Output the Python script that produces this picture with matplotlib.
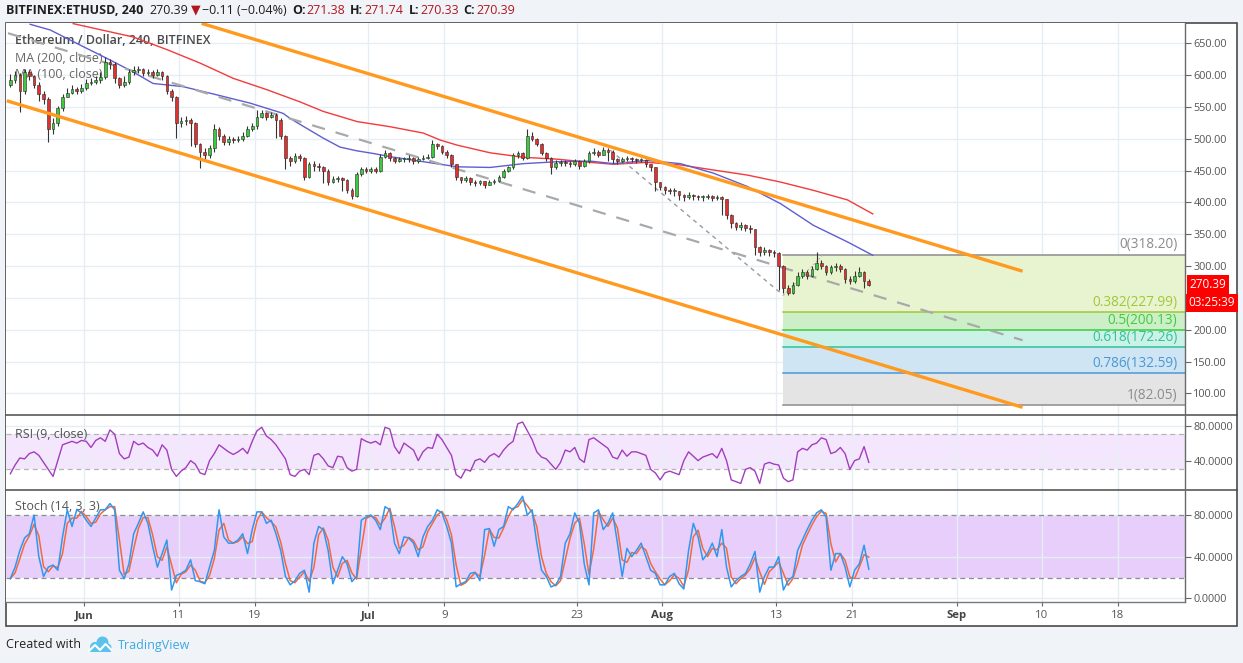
import matplotlib
matplotlib.use("Agg")
import matplotlib.pyplot as plt
import matplotlib.dates as mdates
import matplotlib.transforms as mtransforms
from matplotlib.patches import Rectangle, Circle
from matplotlib.lines import Line2D
import numpy as np
import pandas as pd

plt.rcParams['font.family'] = ['Open Sans', 'DejaVu Sans']

# ETH/USD, 12h candles (May 24 .. Aug 22)
candle_start = "2018-05-24"
first_open = 585
closes = [592, 600, 575, 605, 598, 585, 570, 562, 515, 525, 548, 565, 572, 578, 575, 580,
          588, 590, 592, 597, 620, 618, 595, 585, 590, 605, 608, 610, 603, 605, 600, 605,
          598, 575, 565, 525, 528, 530, 525, 492, 480, 475, 485, 515, 505, 495, 500, 498,
          500, 505, 515, 520, 535, 540, 535, 538, 530, 505, 470, 465, 473, 470, 440, 460,
          458, 455, 450, 432, 437, 438, 435, 420, 410, 445, 452, 450,
          452, 450, 472, 478, 470, 465, 468, 468, 470, 465, 468, 470, 472, 492, 488, 480,
          475, 460, 440, 435, 438, 432, 430, 433, 428, 432, 433, 440, 450, 455, 475, 478,
          470, 505, 500, 492, 478, 470, 455, 462, 463, 462, 460, 465, 458, 465, 478, 480,
          475, 483, 480, 468, 465, 468, 470, 468, 466, 467, 460, 455, 432, 425,
          420, 418, 418, 412, 408, 412, 410, 408, 408, 410, 407, 408, 405, 380, 368, 362,
          365, 360, 358, 330, 322, 325, 322, 320, 300, 265, 258, 270, 285, 290, 285, 295,
          305, 300, 290, 298, 300, 295, 280, 276, 285, 290, 276, 270.39]
highs = [602, 606, 603, 610, 608, 600, 590, 575, 565, 532, 552, 570, 580, 585, 582, 586,
         594, 596, 598, 605, 629, 625, 620, 597, 598, 610, 614, 615, 612, 610, 608, 610,
         607, 600, 578, 567, 534, 536, 532, 527, 494, 485, 490, 524, 518, 508, 505, 503,
         504, 510, 520, 525, 545, 546, 542, 542, 540, 532, 506, 473, 477, 476, 472, 464,
         465, 462, 457, 452, 442, 442, 440, 437, 422, 448, 456, 455,
         456, 455, 476, 482, 480, 472, 472, 471, 474, 471, 471, 474, 476, 498, 494, 490,
         482, 476, 461, 440, 442, 440, 436, 436, 434, 435, 437, 443, 452, 458, 478, 481,
         480, 516, 510, 502, 494, 480, 471, 466, 467, 466, 465, 468, 467, 468, 481, 485,
         482, 487, 485, 483, 470, 472, 473, 472, 470, 470, 468, 458, 455, 432,
         426, 422, 422, 418, 414, 416, 414, 412, 412, 413, 412, 412, 410, 406, 382, 370,
         370, 366, 364, 359, 332, 330, 327, 325, 322, 302, 270, 275, 290, 296, 294, 300,
         322, 310, 302, 302, 305, 303, 297, 284, 292, 298, 292, 280]
lows = [582, 588, 542, 570, 592, 580, 560, 555, 495, 508, 520, 544, 565, 570, 570, 572,
        576, 584, 586, 588, 594, 610, 588, 580, 582, 586, 600, 603, 598, 600, 596, 598,
        592, 570, 560, 501, 518, 522, 488, 487, 454, 468, 470, 480, 498, 490, 490, 493,
        495, 497, 503, 512, 515, 532, 530, 532, 502, 500, 452, 458, 462, 465, 436, 438,
        450, 450, 430, 428, 430, 432, 418, 415, 406, 408, 442, 446,
        446, 446, 448, 470, 465, 462, 463, 464, 464, 460, 462, 466, 468, 470, 484, 476,
        470, 456, 436, 430, 432, 428, 426, 428, 423, 427, 429, 432, 438, 448, 452, 470,
        466, 468, 496, 488, 474, 465, 445, 452, 458, 457, 456, 458, 453, 456, 462, 474,
        472, 474, 465, 462, 461, 463, 465, 464, 462, 463, 455, 450, 418, 419,
        414, 413, 410, 404, 403, 406, 404, 404, 403, 405, 403, 404, 380, 374, 360, 356,
        357, 355, 352, 318, 316, 318, 316, 314, 262, 258, 254, 256, 268, 282, 280, 283,
        294, 296, 286, 288, 292, 290, 274, 272, 274, 283, 266, 268]

ma200_time = ["2018-05-30 21:00", "2018-06-06 05:00", "2018-06-09 19:00", "2018-06-13 06:00",
              "2018-06-16 18:00", "2018-06-20 08:00", "2018-06-23 19:00", "2018-06-26 06:00",
              "2018-06-29 20:00", "2018-07-03 07:00", "2018-07-06 19:00", "2018-07-08 14:00",
              "2018-07-10 09:00", "2018-07-13 20:00", "2018-07-17 08:00", "2018-07-20 22:00",
              "2018-07-24 09:00", "2018-07-26 20:00", "2018-07-30 10:00", "2018-08-02 21:00",
              "2018-08-06 09:00", "2018-08-09 23:00", "2018-08-13 11:00", "2018-08-16 22:00",
              "2018-08-20 12:00", "2018-08-23 04:00"]
ma200_value = [681, 660, 640, 619, 595, 577, 558, 543, 527, 519, 509, 498, 490, 478,
               471, 468, 463, 460, 463, 459, 451, 443, 432, 419, 404, 382]
ma100_time = ["2018-05-26 08:00", "2018-05-28 11:00", "2018-05-31 22:00", "2018-06-03 18:00",
              "2018-06-06 05:00", "2018-06-08 07:00", "2018-06-11 11:00", "2018-06-15 01:00",
              "2018-06-18 13:00", "2018-06-22 00:00", "2018-06-22 18:00", "2018-06-24 13:00",
              "2018-06-26 06:00", "2018-06-28 00:00", "2018-06-29 20:00", "2018-07-01 12:00",
              "2018-07-03 07:00", "2018-07-06 19:00", "2018-07-10 09:00", "2018-07-13 20:00",
              "2018-07-17 08:00", "2018-07-20 22:00", "2018-07-24 09:00", "2018-07-26 20:00",
              "2018-07-30 10:00", "2018-08-02 21:00", "2018-08-06 09:00", "2018-08-09 23:00",
              "2018-08-13 11:00", "2018-08-16 22:00", "2018-08-20 12:00", "2018-08-23 04:00"]
ma100_value = [680, 671, 645, 624, 605, 587, 582, 569, 556, 540, 532, 516, 501, 487, 481,
               477, 472, 464, 456, 455, 461, 464, 465, 461, 466, 461, 446, 425, 398, 364,
               338, 317]

# drawn trend lines (two points each)
channel_upper_time = ["2018-06-13 10:00", "2018-09-07 23:00"]
channel_upper_value = [681.4, 292.0]
channel_lower_time = ["2018-05-23 21:00", "2018-09-07 23:00"]
channel_lower_value = [559.8, 78.1]
trend_long_time = ["2018-05-24 00:00", "2018-09-07 23:00"]
trend_long_value = [666.0, 183.5]
trend_steep_time = ["2018-07-26 12:00", "2018-08-13 18:00"]
trend_steep_value = [482.0, 254.0]
fib_diag_time = ["2018-08-13 18:00", "2018-08-17 23:00"]
fib_diag_value = [254.0, 318.2]

fib_start = "2018-08-13 16:00"
fib_ratios = [0, 0.382, 0.5, 0.618, 0.786, 1]
fib_prices = [318.20, 227.99, 200.13, 172.26, 132.59, 82.05]

rsi = [25, 35, 43, 42, 48, 50, 46, 38, 30, 22, 40, 58, 60, 62, 60, 63, 62, 55, 63, 66,
       62, 75, 70, 48, 42, 44, 62, 58, 60, 55, 52, 45, 58, 52, 30, 22, 28, 32, 40, 36,
       26, 24, 40, 48, 58, 54, 50, 47, 50, 54, 48, 62, 74, 78, 68, 64, 58, 50, 42, 24,
       22, 28, 30, 24, 46, 48, 42, 34, 32, 45, 44, 32, 28, 30, 65, 62, 60, 62, 58, 78,
       76, 56, 48, 60, 56, 52, 40, 50, 55, 54, 70, 64, 55, 46, 24, 20, 30, 28, 40, 42,
       38, 45, 48, 44, 52, 58, 62, 82, 84, 74, 64, 50, 44, 42, 36, 30, 38, 52, 50, 55,
       42, 38, 64, 66, 62, 58, 54, 44, 42, 52, 45, 50, 50, 48, 46, 30, 26, 18, 26, 28,
       26, 24, 40, 50, 45, 40, 44, 46, 48, 43, 54, 40, 18, 16, 14, 30, 32, 28, 14, 36,
       38, 36, 35, 20, 16, 18, 50, 54, 52, 58, 60, 66, 64, 48, 50, 55, 48, 30, 40, 42,
       56, 38]
stoch_k = [19, 30, 46, 58, 62, 80, 40, 21, 30, 32, 27, 59, 85, 69, 85, 82, 75, 69, 77, 85,
           85, 91, 85, 27, 19, 33, 62, 72, 83, 72, 50, 30, 43, 56, 8, 22, 24, 27, 37, 17,
           16, 14, 30, 46, 85, 59, 53, 53, 56, 62, 43, 66, 83, 83, 72, 75, 62, 46, 21, 13,
           17, 24, 27, 6, 53, 69, 66, 46, 14, 27, 40, 33, 16, 21, 75, 78, 80, 75, 66, 88,
           85, 53, 43, 59, 58, 53, 40, 59, 69, 75, 85, 82, 69, 53, 11, 14, 16, 24, 25, 17,
           66, 67, 50, 66, 69, 88, 85, 91, 98, 80, 85, 53, 27, 21, 11, 13, 21, 53, 62, 82,
           72, 33, 13, 82, 85, 66, 72, 82, 53, 21, 48, 40, 46, 53, 40, 27, 24, 13, 13, 21,
           24, 14, 9, 46, 72, 59, 37, 43, 53, 40, 66, 30, 11, 17, 21, 24, 33, 45, 6, 21,
           30, 30, 40, 8, 17, 21, 46, 56, 66, 75, 82, 85, 78, 27, 43, 43, 30, 11, 27, 33,
           51, 28]

last_price = 270.39
countdown = "03:25:39"
header_ohlc = [("O:", "271.38"), ("H:", "271.74"), ("L:", "270.33"), ("C:", "270.39")]
tick_dates = ["2018-06-01", "2018-06-11", "2018-06-19", "2018-07-01", "2018-07-09", "2018-07-23",
              "2018-08-01", "2018-08-13", "2018-08-21", "2018-09-01", "2018-09-10", "2018-09-18"]
tick_labels = ["Jun", "11", "19", "Jul", "9", "23", "Aug", "13", "21", "Sep", "10", "18"]
price_ticks = [100, 150, 200, 250, 300, 350, 400, 450, 500, 550, 600, 650]
hidden_price_label = 250   # covered by the countdown tag in the original


def num(ts):
    return mdates.date2num(pd.to_datetime(ts))


# figure layout in image pixels
W, H = 1243, 663
def box(x0, y0, x1, y1):
    return [x0 / W, 1 - y1 / H, (x1 - x0) / W, (y1 - y0) / H]

fig = plt.figure(figsize=(W / 100, H / 100), dpi=100, facecolor="#F0F3F7")
fig.add_artist(Rectangle((6 / W, 1 - 626 / H), 1231 / W, 603 / H, transform=fig.transFigure,
                         facecolor="white", edgecolor="#4A4A4A", lw=1.2, zorder=-1))

ax = fig.add_axes(box(6, 23, 1185, 415))
ax_rsi = fig.add_axes(box(6, 415, 1185, 490), sharex=ax)
ax_sto = fig.add_axes(box(6, 490, 1185, 602), sharex=ax)

grid_c = "#E6EEF5"
for a in (ax, ax_rsi, ax_sto):
    a.set_facecolor("white")
    for s in a.spines.values():
        s.set_visible(False)
    a.yaxis.tick_right()
    a.tick_params(axis="y", which="both", length=4, color="#666", labelsize=7.8,
                  labelcolor="#555", pad=2)
    a.tick_params(axis="x", bottom=False, labelbottom=False)
    a.grid(True, color=grid_c, lw=1)
    a.set_axisbelow(True)

# candles
t = pd.date_range(candle_start, periods=len(closes), freq="12h") + pd.Timedelta(hours=6)
x = mdates.date2num(t)
c = np.array(closes, dtype=float)
o = np.array([first_open] + closes[:-1], dtype=float)
hi = np.maximum(np.array(highs, dtype=float), np.maximum(o, c))
lo = np.minimum(np.array(lows, dtype=float), np.minimum(o, c))
up = c >= o
ax.vlines(x, lo, hi, color="#333333", lw=0.8, zorder=4)
ax.bar(x, np.maximum(np.abs(c - o), 1.5), bottom=np.minimum(o, c), width=0.28,
       color=np.where(up, "#3CCB3C", "#E2302C"), edgecolor="#2A2A2A", linewidth=0.4, zorder=5)

# moving averages
ax.plot(num(ma200_time), ma200_value, color="#F23B3B", lw=1.0, zorder=3)
ax.plot(num(ma100_time), ma100_value, color="#5E5ED2", lw=1.0, zorder=3)

x_left, x_right = num("2018-05-23 19:00"), num("2018-09-25 02:00")

# fibonacci retracement
fib_fill = ["#E8F4D0", "#CDEFC8", "#CCF1E6", "#CFE5F4", "#E4E4E4"]
fib_line = ["#8C8C8C", "#A3C639", "#3FCB3F", "#30C39F", "#4A98D6", "#8C8C8C"]
fx = [num(fib_start), x_right]
for i in range(len(fib_fill)):
    ax.fill_between(fx, fib_prices[i], fib_prices[i + 1], color=fib_fill[i], lw=0, zorder=1)
trans = mtransforms.blended_transform_factory(ax.transAxes, ax.transData)
for r, p, col in zip(fib_ratios, fib_prices, fib_line):
    ax.plot(fx, [p, p], color=col, lw=1.1, zorder=2)
    ax.annotate(f"{r:g}({p:.2f})", xy=(0.9935, p), xycoords=trans, xytext=(0, 1.5),
                textcoords="offset points", ha="right", va="bottom", fontsize=9.8,
                color=col, zorder=6)

# trend lines
ax.plot(num(trend_long_time), trend_long_value, color="#A9A9A9", lw=1.6, dashes=(6, 5), zorder=3)
ax.plot(num(trend_steep_time), trend_steep_value, color="#9A9A9A", lw=1.0, dashes=(3, 3), zorder=3)
ax.plot(num(fib_diag_time), fib_diag_value, color="#B0B0B0", lw=0.8, dashes=(1.5, 2), zorder=3)
ax.plot(num(channel_upper_time), channel_upper_value, color="#FF9A1F", lw=2.4, zorder=6,
        solid_capstyle="butt")
ax.plot(num(channel_lower_time), channel_lower_value, color="#FF9A1F", lw=2.4, zorder=6,
        solid_capstyle="butt")

ax.set_ylim(66, 682)
ax.set_yticks(price_ticks)
ax.set_yticklabels(["" if v == hidden_price_label else f"{v:.2f}" for v in price_ticks])
ax.set_xlim(x_left, x_right)

# last price tags
ax.text(1.004, last_price, f"{last_price:.2f}", transform=trans, ha="left", va="center",
        color="white", fontsize=8.5, clip_on=False, zorder=10,
        bbox=dict(boxstyle="square,pad=0.25", fc="#FF0000", ec="none"))
ax.annotate(countdown, xy=(1.0, last_price), xycoords=trans, xytext=(2.5, -13),
            textcoords="offset points", ha="left", va="center", color="white", fontsize=8.5,
            annotation_clip=False, zorder=10,
            bbox=dict(boxstyle="square,pad=0.22", fc="#FF0000", ec="none"))

# legend texts in panes
def pane_text(a, y0, y1, px, py, s, **kw):
    a.text((px - 6) / 1179, (y1 - py) / (y1 - y0), s, transform=a.transAxes,
           va="center", ha="left", zorder=2, **kw)

pane_text(ax, 23, 415, 15, 41, "Ethereum / Dollar, 240, BITFINEX", fontsize=9,
          color="#4A4A4A", fontweight="semibold")
pane_text(ax, 23, 415, 15, 58, "MA (200, close)", fontsize=9, color="#666666")
pane_text(ax, 23, 415, 15, 75, "MA (100, close)", fontsize=9, color="#666666")

# RSI
ax_rsi.axhspan(30, 70, color="#F4E7FD", lw=0, zorder=0.5)
for lvl in (30, 70):
    ax_rsi.axhline(lvl, color="#B5B5B5", lw=0.9, dashes=(4, 3), zorder=1)
ax_rsi.plot(x, rsi, color="#A23DBE", lw=1.0, zorder=3)
ax_rsi.set_ylim(6.5, 92)
ax_rsi.set_yticks([40, 80])
ax_rsi.set_yticklabels(["40.0000", "80.0000"])
pane_text(ax_rsi, 415, 490, 15, 434, "RSI (9, close)", fontsize=9, color="#555555")

# Stochastic (%D is the short moving average of %K)
stoch_d = pd.Series(stoch_k, dtype=float).rolling(2, min_periods=1).mean()
ax_sto.axhspan(20, 80, color="#E8CFFB", lw=0, zorder=0.5)
for lvl in (20, 80):
    ax_sto.axhline(lvl, color="#8C8C8C", lw=0.9, dashes=(4, 3), zorder=1)
ax_sto.plot(x, stoch_d, color="#F26A3B", lw=1.1, zorder=3)
ax_sto.plot(x, stoch_k, color="#2F97F0", lw=1.1, zorder=4)
ax_sto.set_ylim(-3.5, 104)
ax_sto.set_yticks([0, 40, 80])
ax_sto.set_yticklabels(["0.0000", "40.0000", "80.0000"])
pane_text(ax_sto, 490, 602, 15, 507, "Stoch (14, 3, 3)", fontsize=9, color="#555555")

ax_sto.set_xticks(num(tick_dates))
ax_sto.set_xticklabels(tick_labels)
ax_sto.tick_params(axis="x", bottom=True, labelbottom=True, length=3, color="#666",
                   labelsize=8.2, labelcolor="#555", pad=3)
for lab in ax_sto.get_xticklabels():
    if lab.get_text().isalpha():
        lab.set_fontweight("bold")
        lab.set_color("#444")

# panel separators and axis lines
for y in (415, 490):
    fig.add_artist(Line2D([6 / W, 1237 / W], [1 - y / H] * 2, transform=fig.transFigure,
                          color="#4A4A4A", lw=1.1))
fig.add_artist(Line2D([1185 / W] * 2, [1 - 23 / H, 1 - 602 / H], transform=fig.transFigure,
                      color="#6A6A6A", lw=1))
fig.add_artist(Line2D([6 / W, 1185 / W], [1 - 602 / H] * 2, transform=fig.transFigure,
                      color="#7A7A7A", lw=1))

# header line
renderer = fig.canvas.get_renderer()
dark, red = "#1E1E1E", "#B0171F"
pieces = [("BITFINEX:ETHUSD, 240", dark, "bold", 6), (f"{last_price:.2f}", dark, "normal", 2),
          ("\u25BC", red, "normal", 2), ("\u22120.11 (\u22120.04%)", dark, "normal", 5)]
for k, v in header_ohlc:
    pieces += [(k, dark, "bold", 1), (v, red, "normal", 5)]
hx = 6.5
for s, col, wt, gap in pieces:
    tt = fig.text(hx / W, 1 - 10 / H, s, color=col, fontweight=wt, fontsize=9,
                  va="center", ha="left")
    hx = tt.get_window_extent(renderer).x1 + gap

# footer
fig.text(6 / W, 1 - 645 / H, "Created with", fontsize=9, color="#222222", va="center")
logo = "#5BC2EC"
for cx, cy, r in [(95, 647, 5.0), (102.5, 642.5, 6.0), (107.5, 647.5, 4.0)]:
    fig.add_artist(Circle((cx / 100, (H - cy) / 100), r / 100, transform=fig.dpi_scale_trans,
                          color=logo, lw=0))
fig.add_artist(Rectangle((90 / 100, (H - 652) / 100), 21 / 100, 5.5 / 100,
                         transform=fig.dpi_scale_trans, color=logo, lw=0))
zig = [(89, 651), (95, 645), (100, 650), (105.5, 644), (111.5, 650)]
fig.add_artist(Line2D([p[0] / 100 for p in zig], [(H - p[1]) / 100 for p in zig],
                      transform=fig.dpi_scale_trans, color="white", lw=1.5))
fig.text(118 / W, 1 - 645 / H, "TradingView", fontsize=9, color="#3CA9E2", va="center")

fig.savefig("out.png", dpi=100, facecolor=fig.get_facecolor())
